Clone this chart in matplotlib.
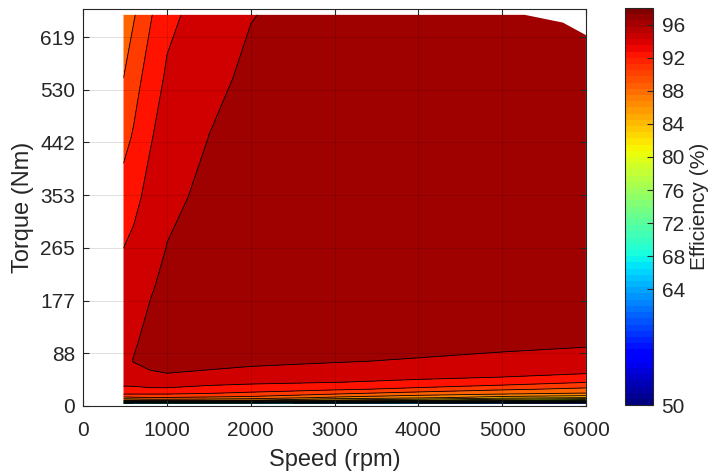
import numpy as np
import matplotlib
matplotlib.use("Agg")
from matplotlib import pyplot as plt
from matplotlib.patches import Polygon
from matplotlib.colors import Normalize
from matplotlib.cm import ScalarMappable

plt.rcParams['font.family'] = ['Liberation Sans', 'DejaVu Sans']

# operating grid (rpm, Nm)
speeds = [480, 600, 800, 1000, 1500, 2000, 3000, 4000, 5000, 6000]
torques = [4, 7, 10, 14, 20, 28, 40, 55, 75, 100, 150, 200, 265, 350, 450, 550, 656]

# efficiency (%), one list per speed column
eff_480 = [62, 78, 86, 89.5, 92, 93.5, 94.6, 95.2, 95.6, 95.6, 95.2, 94.7, 94.0, 92.8, 91.4, 90.0, 88.6]
eff_600 = [62, 78, 86.5, 89.7, 92, 93.5, 94.7, 95.5, 96.05, 95.9, 95.5, 95.0, 94.4, 93.5, 92.2, 91.2, 89.8]
eff_800 = [63, 79, 87, 89.9, 92, 93.7, 95.0, 95.9, 96.3, 96.4, 96.2, 95.85, 95.3, 94.6, 93.85, 92.9, 91.8]
eff_1000 = [63, 79, 87, 89.9, 92, 93.7, 95.1, 96.0, 96.5, 96.7, 96.6, 96.4, 96.05, 95.6, 94.9, 94.3, 93.5]
eff_1500 = [63, 79, 86.8, 89.6, 91.8, 93.3, 94.6, 95.8, 96.5, 96.8, 96.9, 96.8, 96.6, 96.4, 96.02, 95.6, 95.0]
eff_2000 = [63, 78, 86.3, 89.3, 91.4, 92.9, 94.4, 95.6, 96.3, 96.8, 97.0, 97.0, 96.9, 96.8, 96.6, 96.3, 95.95]
eff_3000 = [61, 76, 84, 87.6, 90, 92.3, 94.05, 95.2, 96.1, 96.7, 97.1, 97.2, 97.2, 97.1, 97.0, 96.8, 96.6]
eff_4000 = [60, 74, 82.5, 86.5, 88.8, 91.5, 93.6, 94.9, 95.85, 96.5, 97.0, 97.2, 97.2, 97.1, 97.0, 96.9, 96.7]
eff_5000 = [58, 72, 80.5, 85, 88, 90.3, 93.2, 94.6, 95.5, 96.3, 96.9, 97.1, 97.1, 97.0, 96.9, 96.8, 96.6]
eff_6000 = [56, 70, 79, 84, 87.6, 89.5, 92.1, 94.1, 95.2, 96.05, 96.7, 96.9, 97.0, 96.9, 96.8, 96.6, 96.4]

# max torque envelope
env_speed = [480, 5270, 5725, 6000]
env_torque = [656, 656, 643, 622]

ytick_pos = [0, 88.4, 176.8, 265.2, 353.6, 442, 530.4, 618.8]
ytick_lab = ['0', '88', '177', '265', '353', '442', '530', '619']
cbar_ticks = [50, 64, 68, 72, 76, 80, 84, 88, 92, 96]

eff = np.array([eff_480, eff_600, eff_800, eff_1000, eff_1500, eff_2000,
                eff_3000, eff_4000, eff_5000, eff_6000]).T
S, T = np.meshgrid(speeds, torques)

levels = np.arange(50, 99, 2)
norm = Normalize(50, 98)
jet = plt.get_cmap('jet')
fill_colors = [jet(norm(lv + 0.6)) for lv in levels[:-1]]

fig = plt.figure(figsize=(7.15, 4.75), dpi=100)
ax = fig.add_axes([0.1165, 0.1453, 0.703, 0.836])

cf = ax.contourf(S, T, eff, levels=levels, colors=fill_colors)
cl = ax.contour(S, T, eff, levels=levels, colors='k', linewidths=0.6)

verts = [(speeds[0], torques[0]), (speeds[-1], torques[0])]
verts += list(zip(env_speed[::-1], env_torque[::-1]))
clip = Polygon(verts, closed=True, transform=ax.transData)
cf.set_clip_path(clip)
cl.set_clip_path(clip)

ax.set_xlim(0, 6000)
ax.set_ylim(0, 666)
ax.set_xticks([0, 1000, 2000, 3000, 4000, 5000, 6000])
ax.set_yticks(ytick_pos)
ax.set_yticklabels(ytick_lab)
ax.grid(True, color='k', alpha=0.15, lw=0.6)
ax.set_axisbelow(False)
ax.tick_params(direction='in', top=True, right=True, length=4, labelsize=15,
               colors='0.15', pad=6)
ax.tick_params(axis='x', pad=11)
for sp in ax.spines.values():
    sp.set_color('0.15')
ax.set_xlabel('Speed (rpm)', fontsize=17, color='0.15', labelpad=6)
ax.set_ylabel('Torque (Nm)', fontsize=17, color='0.15', labelpad=4)

cax = fig.add_axes([0.874, 0.147, 0.0396, 0.836])
sm = ScalarMappable(norm=norm, cmap=plt.get_cmap('jet', 64))
cb = fig.colorbar(sm, cax=cax, ticks=cbar_ticks)
cb.outline.set_edgecolor('0.15')
cax.tick_params(direction='in', length=4, labelsize=15, colors='0.15', pad=6)
cb.set_label('Efficiency (%)', fontsize=15, color='0.15', labelpad=4)

fig.savefig('out.png', dpi=100)
